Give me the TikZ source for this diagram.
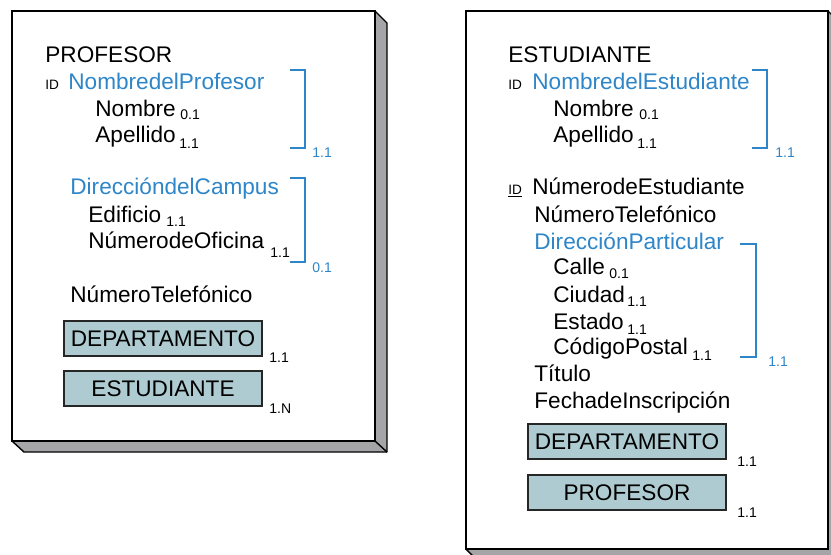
\documentclass[tikz,border=0pt]{standalone}
\usepackage{fontspec}
\setmainfont{Liberation Sans}
\definecolor{erblue}{RGB}{46,134,200}
\definecolor{erfill}{RGB}{174,203,209}
\definecolor{ershade}{RGB}{165,165,168}
\usetikzlibrary{positioning}

\begin{document}
\begin{tikzpicture}[x=0.5pt, y=-0.5pt,
  attr/.style={anchor=base west, inner sep=0pt, font=\fontsize{11.3}{13}\selectfont},
  key/.style={attr, text=erblue},
  idtag/.style={anchor=base west, inner sep=0pt, font=\fontsize{6.8}{8}\selectfont},
  card/.style={anchor=base west, inner sep=0pt, font=\fontsize{7}{8}\selectfont},
  bcard/.style={card, text=erblue},
  relbox/.style={rectangle, draw=black!85, fill=erfill, line width=0.6pt,
                 minimum width=99pt, minimum height=17.5pt, inner sep=0pt,
                 font=\fontsize{11.3}{13}\selectfont},
  grp/.style={draw=erblue, line width=0.6pt},
  page/.style={draw=black, line width=0.7pt, fill=white},
  shade/.style={draw=black, line width=0.7pt, fill=ershade, line join=round}
]
\useasboundingbox (0,0) rectangle (831,554);
\clip (0,0) rectangle (831,554);

% Entity cards
\draw[shade] (375,11) -- (387,23) -- (387,452) -- (24,452) -- (12,441) -- (375,441) -- cycle;
\draw[page] (12,11) rectangle (375,441);
\draw[line width=0.7pt] (375,441) -- (387,452);
\draw[shade] (828,11) -- (840,23) -- (840,561) -- (478,561) -- (466,549) -- (828,549) -- cycle;
\draw[page] (466,11) rectangle (828,549);

% PROFESOR
\node[attr] (prof) at (45,62) {PROFESOR};
\node[idtag] (pid) at (45,89) {ID};
\node[key] (pname) at (68,89) {NombredelProfesor};
\node[attr] (pnom) at (95,116) {Nombre};
\node[card] at (180,119) {0.1};
\node[attr] (pape) at (95,142) {Apellido};
\node[card] at (179,148) {1.1};
\draw[grp] (290,70) -- (305,70) -- (305,148) -- (290,148);
\node[bcard] at (312,157) {1.1};

\node[key] (pcamp) at (70,194) {DireccióndelCampus};
\node[attr] (pedif) at (88,222) {Edificio};
\node[card] at (166,226) {1.1};
\node[attr] (pofic) at (88,248) {NúmerodeOficina};
\node[card] at (270,257) {1.1};
\draw[grp] (290,178) -- (305,178) -- (305,262) -- (290,262);
\node[bcard] at (312,272) {0.1};

\node[attr] (ptel) at (70,302) {NúmeroTelefónico};
\node[relbox] (pdep) at (163,338.5) {DEPARTAMENTO};
\node[card] at (269,362) {1.1};
\node[relbox] (pest) at (163,388.5) {ESTUDIANTE};
\node[card] at (269,413) {1.N};

% ESTUDIANTE
\node[attr] (est) at (508,62) {ESTUDIANTE};
\node[idtag] (eid) at (508,89) {ID};
\node[key] (ename) at (532,89) {NombredelEstudiante};
\node[attr] (enom) at (553,116) {Nombre};
\node[card] at (639,119) {0.1};
\node[attr] (eape) at (553,142) {Apellido};
\node[card] at (637,148) {1.1};
\draw[grp] (752,70) -- (767,70) -- (767,148) -- (752,148);
\node[bcard] at (775,157) {1.1};

\node[idtag] (eid2) at (508,194) {\underline{ID}};
\node[attr] (enum) at (532,194) {NúmerodeEstudiante};
\node[attr] (etel) at (534,222) {NúmeroTelefónico};
\node[key] (edir) at (534,249) {DirecciónParticular};
\node[attr] (ecal) at (553,274) {Calle};
\node[card] at (609,278) {0.1};
\node[attr] (eciu) at (553,302) {Ciudad};
\node[card] at (627,306) {1.1};
\node[attr] (eedo) at (553,329) {Estado};
\node[card] at (627,334) {1.1};
\node[attr] (ecp) at (553,354) {CódigoPostal};
\node[card] at (692,360) {1.1};
\draw[grp] (740,244) -- (756,244) -- (756,357) -- (740,357);
\node[bcard] at (768,366) {1.1};

\node[attr] (etit) at (534,381) {Título};
\node[attr] (efec) at (534,408) {FechadeInscripción};
\node[relbox] (edep) at (627,441.5) {DEPARTAMENTO};
\node[card] at (737,466) {1.1};
\node[relbox] (eprof) at (627,492.5) {PROFESOR};
\node[card] at (737,517) {1.1};
\end{tikzpicture}
\end{document}
